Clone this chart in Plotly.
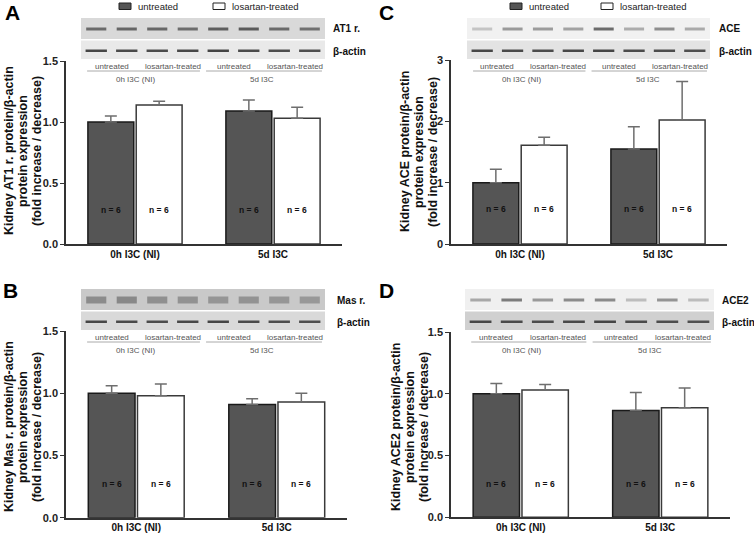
import plotly.graph_objects as go

# canvas size in px, everything positioned in paper space from pixel measurements
W, H = 754, 535

categories = ["0h I3C (NI)", "5d I3C"]
series_names = ["untreated", "losartan-treated"]
n_per_group = 6

# panel A - AT1 receptor
at1_untreated = [1.00, 1.09]
at1_untreated_sem = [0.05, 0.09]
at1_losartan = [1.14, 1.03]
at1_losartan_sem = [0.03, 0.09]

# panel B - Mas receptor
mas_untreated = [1.00, 0.91]
mas_untreated_sem = [0.06, 0.045]
mas_losartan = [0.98, 0.93]
mas_losartan_sem = [0.095, 0.07]

# panel C - ACE
ace_untreated = [1.00, 1.55]
ace_untreated_sem = [0.22, 0.36]
ace_losartan = [1.61, 2.02]
ace_losartan_sem = [0.13, 0.63]

# panel D - ACE2
ace2_untreated = [1.00, 0.865]
ace2_untreated_sem = [0.083, 0.145]
ace2_losartan = [1.03, 0.886]
ace2_losartan_sem = [0.045, 0.16]

# blot band shades per lane (rough look of the scanned western blots)
at1_bands = ["#6a6a6a", "#666666", "#676767", "#6c6c6c", "#5e5e5e", "#5a5a5a", "#6a6a6a", "#707070"]
mas_bands = ["#8c8c8c", "#888888", "#8f8f8f", "#929292", "#959595", "#939393", "#969696", "#989898"]
ace_bands = ["#c4c4c4", "#9a9a9a", "#9c9c9c", "#a2a2a2", "#6c6c6c", "#acacac", "#8e8e8e", "#aaaaaa"]
ace2_bands = ["#a8a8a8", "#7c7c7c", "#9a9a9a", "#8c8c8c", "#8a8a8a", "#bdbdbd", "#949494", "#bcbcbc"]
actin_bands = ["#474747", "#4a4a4a", "#4c4c4c", "#484848", "#454545", "#4b4b4b", "#4d4d4d", "#4f4f4f"]

FONT = "Arial, Liberation Sans, sans-serif"
DARK = "#555555"


def X(p):
    return p / W


def Y(p):
    return 1 - p / H


def note(x, y, text, size, color="#111", bold=False, **kw):
    # centred paper annotation (auto anchors shift things near the edges)
    d = dict(x=x, y=y, xref="paper", yref="paper", text=text, showarrow=False,
             xanchor="center", yanchor="middle",
             font=dict(family=FONT, size=size, color=color,
                       weight="bold" if bold else "normal"))
    d.update(kw)
    return d


panels = [
    dict(letter="A", ax="", vals=(at1_untreated, at1_untreated_sem, at1_losartan, at1_losartan_sem),
         xdom=(66, 342), ydom=(244, 61), yrange=[0, 1.5], dtick=0.5, fmt=".1f",
         target="AT1 r.", bands=at1_bands, blot=(81, 325, 18), rows=("#d9d9d9", "#e9e9e9"),
         label_x=331, title_x=(9, 23, 37), title_y=151, n_y=210, letter_xy=(12, 13),
         legend=(119, 213)),
    dict(letter="C", ax="2", vals=(ace_untreated, ace_untreated_sem, ace_losartan, ace_losartan_sem),
         xdom=(451, 727), ydom=(244, 60), yrange=[0, 3], dtick=1, fmt="d",
         target="ACE", bands=ace_bands, blot=(467, 710, 18), rows=("#f1f1f1", "#e3e3e3"),
         label_x=717, title_x=(405, 419, 433), title_y=152, n_y=209, letter_xy=(386, 13),
         legend=(510, 601)),
    dict(letter="B", ax="3", vals=(mas_untreated, mas_untreated_sem, mas_losartan, mas_losartan_sem),
         xdom=(66, 347), ydom=(517.7, 331), yrange=[0, 1.5], dtick=0.5, fmt=".1f",
         target="Mas r.", bands=mas_bands, blot=(81, 325, 289), rows=("#c9c9c9", "#d9d9d9"),
         label_x=335, title_x=(9, 23, 37), title_y=427, n_y=484, letter_xy=(10, 290),
         legend=None),
    dict(letter="D", ax="4", vals=(ace2_untreated, ace2_untreated_sem, ace2_losartan, ace2_losartan_sem),
         xdom=(451, 730), ydom=(517.3, 332), yrange=[0, 1.5], dtick=0.5, fmt=".1f",
         target="ACE2", bands=ace2_bands, blot=(465, 714, 289), rows=("#f0f0f0", "#d0d0d0"),
         label_x=720, title_x=(396, 410, 424), title_y=427, n_y=484, letter_xy=(386, 290),
         legend=None),
]

fig = go.Figure()
shapes = []
annotations = []
layout = {}

for p in panels:
    xa = "x" + p["ax"]
    ya = "y" + p["ax"]
    u, u_sem, l, l_sem = p["vals"]

    fig.add_trace(go.Bar(
        x=categories, y=u, name=series_names[0], xaxis=xa, yaxis=ya,
        marker=dict(color=DARK, line=dict(color="#1a1a1a", width=1.5)),
        error_y=dict(type="data", symmetric=False, array=u_sem, arrayminus=[0, 0],
                     color="#6e6e6e", thickness=1.5, width=6),
        showlegend=False, hoverinfo="skip"))
    fig.add_trace(go.Bar(
        x=categories, y=l, name=series_names[1], xaxis=xa, yaxis=ya,
        marker=dict(color="white", line=dict(color="#3a3a3a", width=1.5)),
        error_y=dict(type="data", symmetric=False, array=l_sem, arrayminus=[0, 0],
                     color="#6e6e6e", thickness=1.5, width=6),
        showlegend=False, hoverinfo="skip"))

    layout["xaxis" + p["ax"]] = dict(
        domain=[X(p["xdom"][0]), X(p["xdom"][1])], anchor=ya, range=[-0.5, 1.5],
        showline=True, linecolor="#333", linewidth=1.5, ticks="", showgrid=False,
        automargin=False, zeroline=False,
        tickfont=dict(family=FONT, size=10, color="#111", weight="bold"), fixedrange=True)
    layout["yaxis" + p["ax"]] = dict(
        domain=[Y(p["ydom"][0]), Y(p["ydom"][1])], anchor=xa, range=p["yrange"],
        dtick=p["dtick"], tickformat=p["fmt"], showline=True, linecolor="#333",
        linewidth=1.5, ticks="outside", ticklen=4, tickwidth=1.2, tickcolor="#333",
        showgrid=False, zeroline=False, automargin=False,
        tickfont=dict(family=FONT, size=11, color="#222", weight="bold"), fixedrange=True)

    # n = 6 labels inside each bar
    for i in range(len(categories)):
        for off in (-0.175, 0.175):
            a = note(0, Y(p["n_y"]), "n = %d" % n_per_group, 8.5, bold=True)
            a.update(x=i + off, xref=xa)
            annotations.append(a)

    # y axis title, three rotated lines
    lines = ["Kidney %s protein/β-actin" % p["target"], "protein expression",
             "(fold increase / decrease)"]
    for tx, line in zip(p["title_x"], lines):
        annotations.append(note(X(tx), Y(p["title_y"]), line, 12.5, bold=True, textangle=-90))

    # panel letter
    annotations.append(note(X(p["letter_xy"][0]), Y(p["letter_xy"][1]), p["letter"], 21,
                            color="#000", bold=True))

    # western blot strip
    x0, x1, yb = p["blot"]
    w = (x1 - x0) / 8
    shapes.append(dict(type="rect", xref="paper", yref="paper", x0=X(x0), x1=X(x1),
                       y0=Y(yb), y1=Y(yb + 21), fillcolor=p["rows"][0], line=dict(width=0),
                       layer="below"))
    shapes.append(dict(type="rect", xref="paper", yref="paper", x0=X(x0), x1=X(x1),
                       y0=Y(yb + 22.5), y1=Y(yb + 41), fillcolor=p["rows"][1], line=dict(width=0),
                       layer="below"))
    thick = 7 if p["letter"] == "B" else 3
    for k in range(8):
        cx = x0 + w * (k + 0.5)
        shapes.append(dict(type="rect", xref="paper", yref="paper",
                           x0=X(cx - w * 0.33), x1=X(cx + w * 0.33),
                           y0=Y(yb + 11 - thick / 2), y1=Y(yb + 11 + thick / 2),
                           fillcolor=p["bands"][k], line=dict(width=0)))
        shapes.append(dict(type="rect", xref="paper", yref="paper",
                           x0=X(cx - w * 0.35), x1=X(cx + w * 0.35),
                           y0=Y(yb + 31.5), y1=Y(yb + 34),
                           fillcolor=actin_bands[k], line=dict(width=0)))
    annotations.append(note(X(p["label_x"]), Y(yb + 11), p["target"], 10, bold=True,
                            xanchor="left"))
    annotations.append(note(X(p["label_x"]), Y(yb + 33), "β-actin", 10, bold=True,
                            xanchor="left"))

    # lane group labels under the blot
    for k, name in enumerate(series_names * 2):
        annotations.append(note(X(x0 + w * (2 * k + 1)), Y(yb + 48), name, 8, color="#555"))
    for a, b in ((0.2, 3.9), (4.1, 7.9)):
        shapes.append(dict(type="line", xref="paper", yref="paper",
                           x0=X(x0 + w * a), x1=X(x0 + w * b), y0=Y(yb + 53), y1=Y(yb + 53),
                           line=dict(color="#aaaaaa", width=1)))
    for cat, c in zip(categories, (1.8, 5.95)):
        annotations.append(note(X(x0 + w * c), Y(yb + 61), cat, 8, color="#555"))

    # legend at top of panels A and C
    if p["legend"]:
        for lx, name, fill in zip(p["legend"], series_names, (DARK, "white")):
            shapes.append(dict(type="rect", xref="paper", yref="paper",
                               x0=X(lx), x1=X(lx + 12), y0=Y(3), y1=Y(9.5),
                               fillcolor=fill, line=dict(color="#222", width=1)))
            annotations.append(note(X(lx + 17), Y(6.5), name, 9.5, color="#222",
                                    xanchor="left"))

fig.update_layout(
    width=W, height=H, margin=dict(l=0, r=0, t=0, b=0, autoexpand=False),
    paper_bgcolor="white", plot_bgcolor="white",
    barmode="group", bargap=0.3, bargroupgap=0.05,
    font=dict(family=FONT),
    shapes=shapes, annotations=annotations, **layout)

# drop the default 8px page margin so the figure sits at the window's corner
fig.write_html("out.html", config={"displayModeBar": False},
               post_script="document.body.style.margin='0';")
